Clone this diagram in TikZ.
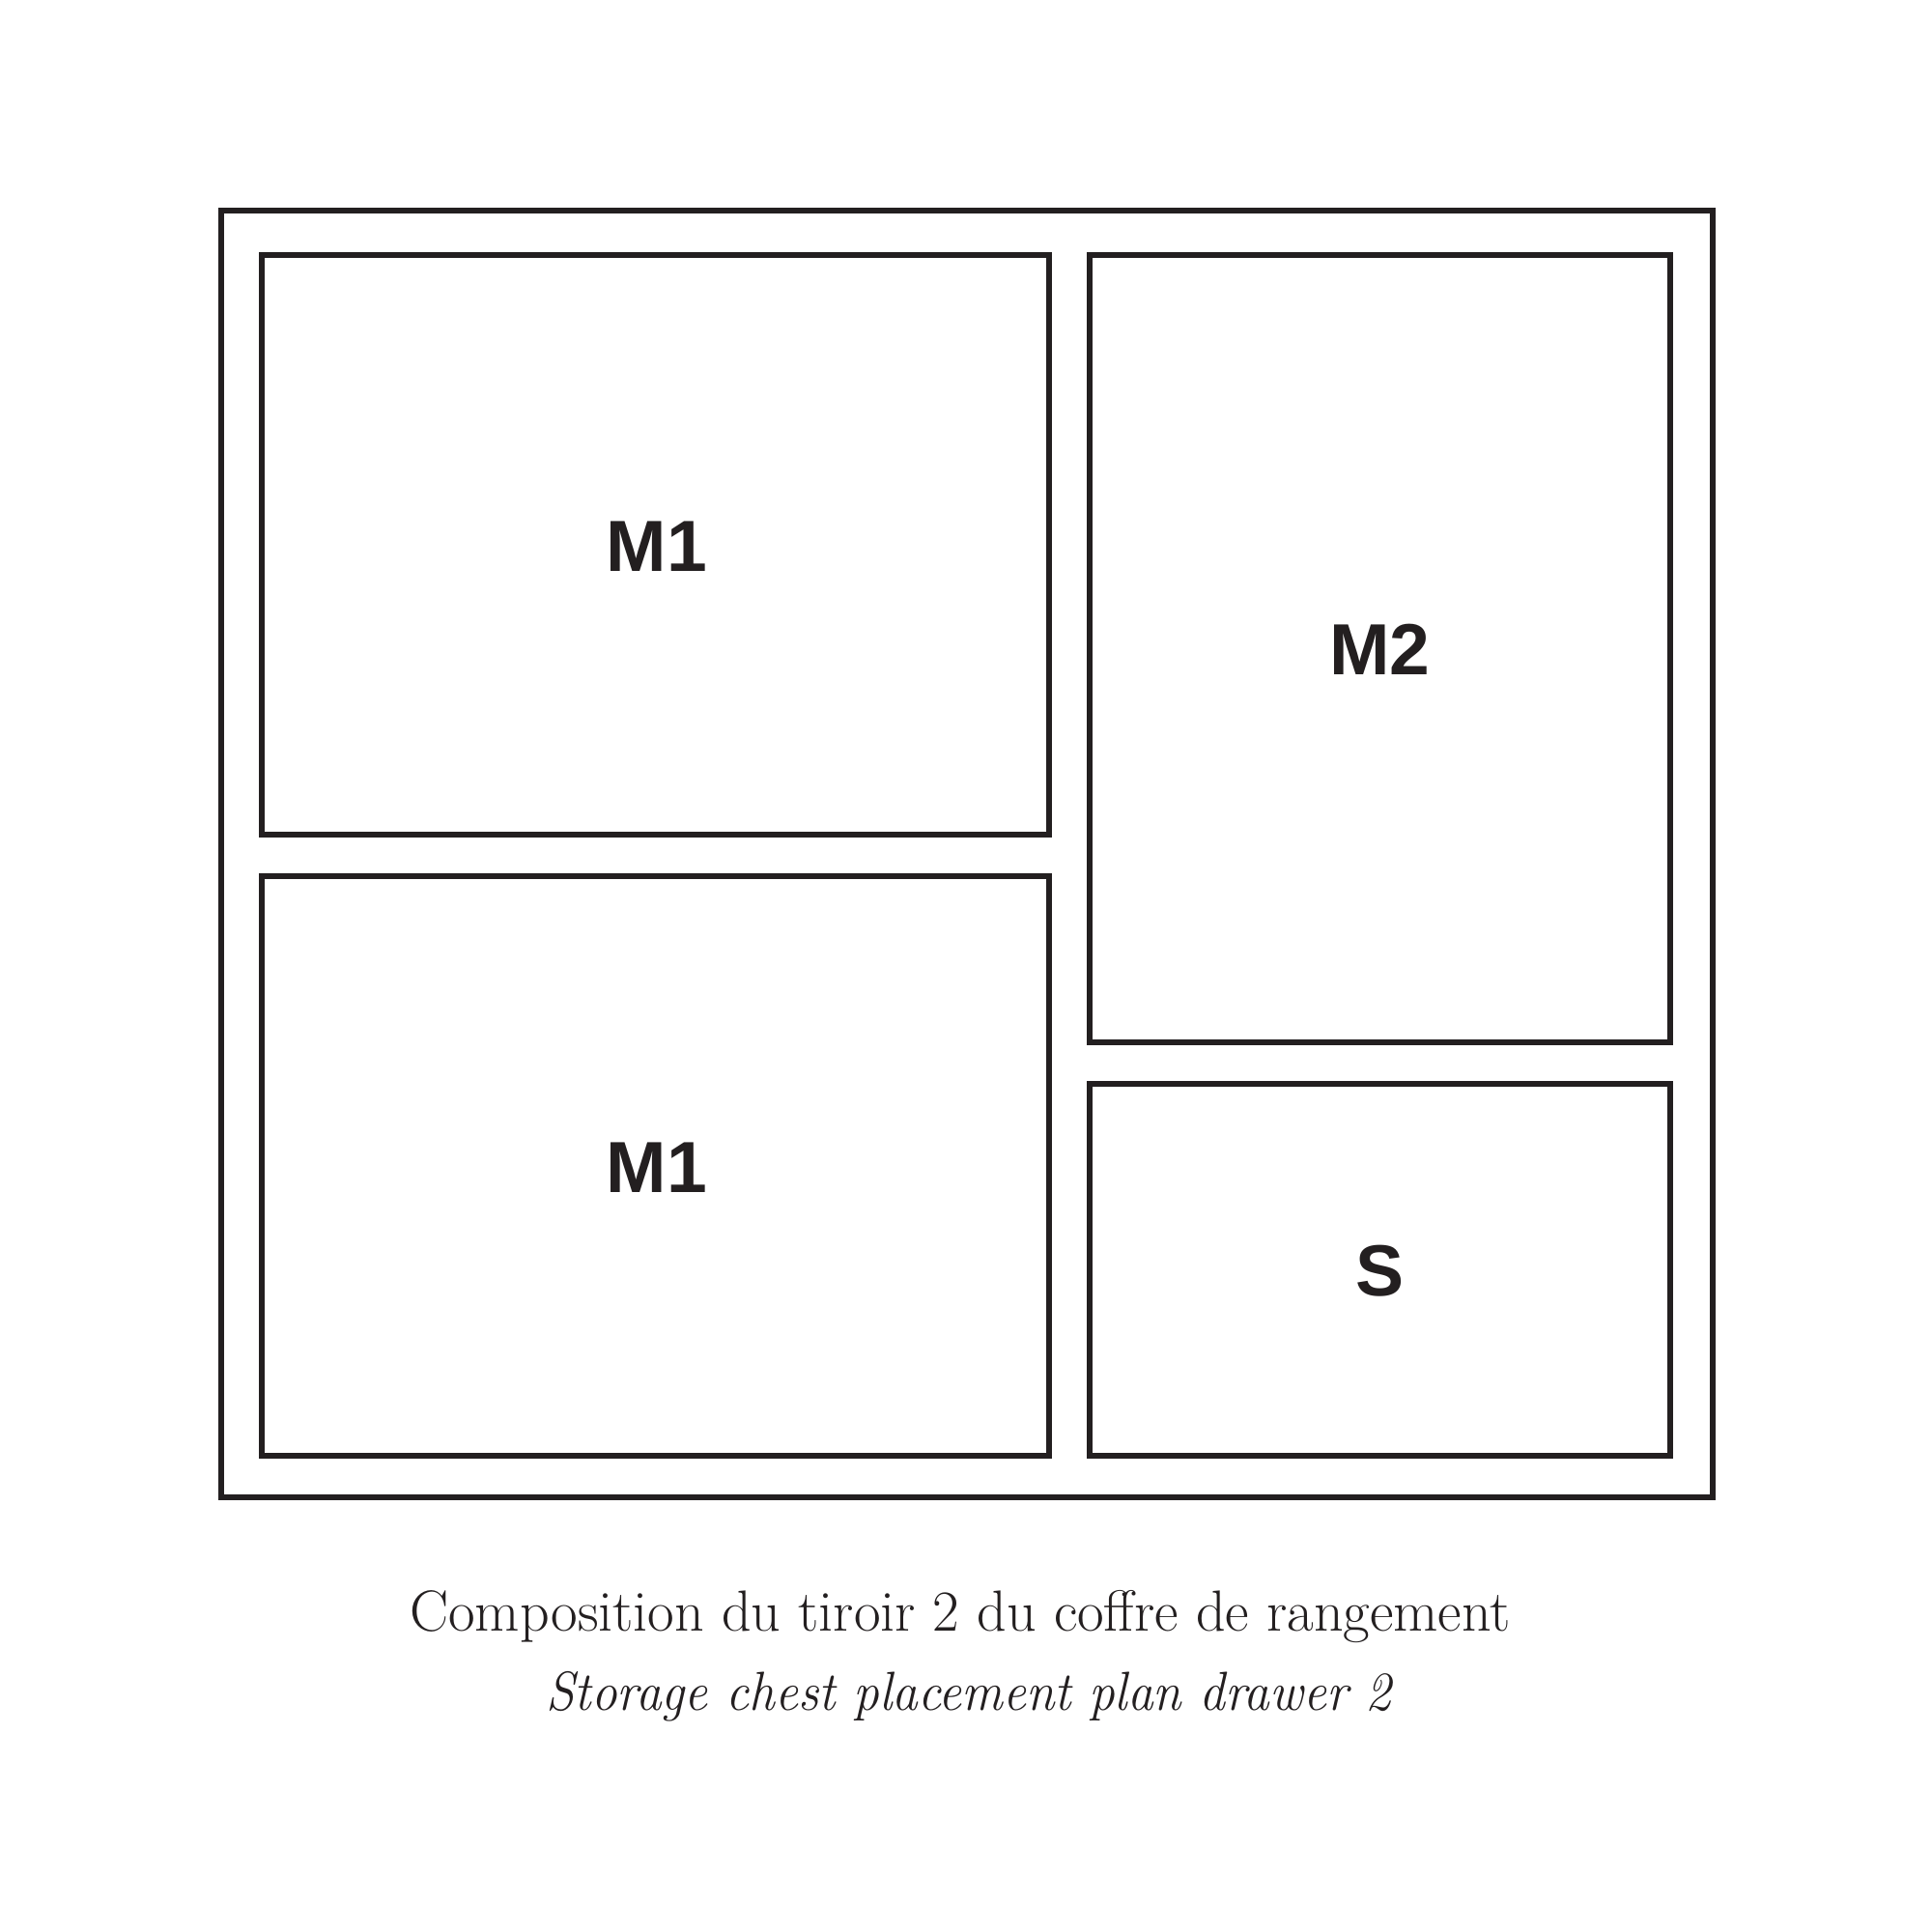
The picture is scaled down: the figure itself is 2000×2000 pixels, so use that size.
\documentclass[tikz,border=0pt]{standalone}
\usepackage{fontspec}
\newfontfamily\labelfont{Liberation Sans}
\definecolor{ink}{HTML}{231F20}
\begin{document}
\begin{tikzpicture}[x=0.5pt,y=-0.5pt,
  box/.style={draw=ink,line width=3pt},
  outerbox/.style={draw=ink,line width=3.2pt},
  lbl/.style={text=ink,font=\labelfont\bfseries\fontsize{37.5pt}{40pt}\selectfont,anchor=base,inner sep=0pt},
  captext/.style={text=ink,anchor=base,inner sep=0pt}]
\useasboundingbox[fill=white] (0,0) rectangle (2000,2000);
\draw[outerbox] (229,218) rectangle (1773,1550);
\draw[box] (271,264) rectangle (1086,864);
\draw[box] (271,907) rectangle (1086,1507);
\draw[box] (1128,264) rectangle (1729,1079);
\draw[box] (1128,1122) rectangle (1729,1507);
\node[lbl] (m1a) at (680,591) {M1};
\node[lbl] (m1b) at (680,1234) {M1};
\node[lbl] (m2) at (1428.5,698.5) {M2};
\node[lbl] (s) at (1428.5,1341.5) {S};
\node[captext,font=\fontsize{30pt}{34pt}\selectfont] (fr) at (994,1688) {Composition du tiroir 2 du coffre de rangement};
\node[captext,font=\itshape\fontsize{28.5pt}{32pt}\selectfont] (en) at (1003,1770) {\scalebox{0.935}[1]{Storage chest placement plan drawer 2}};
\end{tikzpicture}
\end{document}
